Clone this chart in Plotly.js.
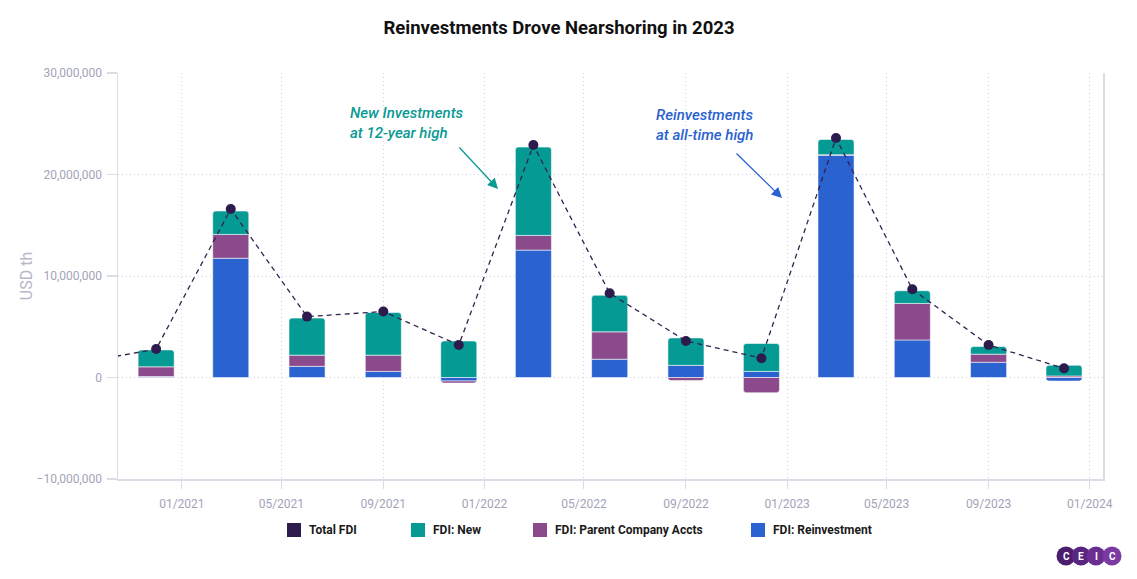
<!DOCTYPE html>
<html>
<head>
<meta charset="utf-8">
<script src="https://cdn.plot.ly/plotly-3.0.1.min.js"></script>
<style>
  html, body { margin: 0; padding: 0; background: #ffffff; }
  #chart { width: 1137px; height: 579px; }
</style>
</head>
<body>
<div id="chart"></div>
<script>
// Quarterly dates (bars)
const barDates = ['2020-12-01','2021-03-01','2021-06-01','2021-09-01','2021-12-01','2022-03-01','2022-06-01','2022-09-01','2022-12-01','2023-03-01','2023-06-01','2023-09-01','2023-12-01'];
// Total FDI line dates (includes the earlier quarter that lies just off the left edge)
const totalDates = ['2020-09-01','2020-12-01','2021-03-01','2021-06-01','2021-09-01','2021-12-01','2022-03-01','2022-06-01','2022-09-01','2022-12-01','2023-03-01','2023-06-01','2023-09-01','2023-12-01'];

// USD th
const fdiReinvestment = [100000, 11750000, 1100000, 600000, -350000, 12550000, 1800000, 1200000, 600000, 21900000, 3700000, 1500000, -350000];
const fdiParent       = [950000, 2350000, 1100000, 1600000, -200000, 1450000, 2700000, -300000, -1500000, 50000, 3600000, 800000, 150000];
const fdiNew          = [1670000, 2300000, 3650000, 4200000, 3600000, 8700000, 3600000, 2700000, 2750000, 1500000, 1250000, 750000, 1050000];
const totalFDI        = [1450000, 2800000, 16600000, 6000000, 6500000, 3200000, 22900000, 8300000, 3600000, 1900000, 23600000, 8700000, 3200000, 900000];

const seriesNames = ['Total FDI', 'FDI: New', 'FDI: Parent Company Accts', 'FDI: Reinvestment'];
const seriesColors = ['#2d1b4e', '#069a94', '#8a4a8c', '#2a62d0'];

const barWidth = 43.5 * 24 * 3600 * 1000;
const barLine = { width: 1, color: 'rgba(255,255,255,0.55)' };

const traces = [
  { type: 'bar', x: barDates, y: fdiReinvestment, name: seriesNames[3], width: barWidth,
    marker: { color: seriesColors[3], line: barLine } },
  { type: 'bar', x: barDates, y: fdiParent, name: seriesNames[2], width: barWidth,
    marker: { color: seriesColors[2], line: barLine } },
  { type: 'bar', x: barDates, y: fdiNew, name: seriesNames[1], width: barWidth,
    marker: { color: seriesColors[1], line: barLine } },
  { type: 'scatter', mode: 'lines+markers', x: totalDates, y: totalFDI, name: seriesNames[0],
    cliponaxis: true,
    line: { color: '#33224f', width: 1.3, dash: '5px,4px' },
    marker: { color: seriesColors[0], size: 10 } }
];

const PL = 118, PR = 1103, PT = 73, PB = 479;
const px = v => (v - PL) / (PR - PL);
const py = v => (PB - v) / (PB - PT);

// custom legend (squares + bold labels), positioned like the reference
const legendSymX = [294, 418, 540, 758];
const legendY = 530;

const logoX = [1066, 1081, 1096, 1112];
const logoLetters = ['C', 'E', 'I', 'C'];
const logoColors = ['#4a1d6d', '#5a2580', '#692e90', '#7a3aa2'];
const logoY = 556;

const shapes = logoX.map((cx, i) => ({
  type: 'circle', xref: 'paper', yref: 'paper', xsizemode: 'pixel', ysizemode: 'pixel',
  xanchor: px(cx), yanchor: py(logoY), x0: -9.5, x1: 9.5, y0: -9.5, y1: 9.5,
  fillcolor: logoColors[i], line: { width: 0 }, layer: 'above'
})).concat(legendSymX.map((cx, i) => ({
  type: 'rect', xref: 'paper', yref: 'paper', xsizemode: 'pixel', ysizemode: 'pixel',
  xanchor: px(cx), yanchor: py(legendY), x0: -7, x1: 7, y0: -7, y1: 7,
  fillcolor: seriesColors[i], line: { width: 0 }, layer: 'above'
})));

const annotations = [
  { xref: 'paper', yref: 'paper', x: px(348), y: py(102), xanchor: 'left', yanchor: 'top', align: 'left',
    showarrow: false, text: 'New Investments<br>at 12-year high',
    font: { family: 'Roboto, sans-serif', size: 15, color: '#0a9a94', style: 'italic', weight: 500 } },
  { xref: 'paper', yref: 'paper', x: px(654), y: py(104), xanchor: 'left', yanchor: 'top', align: 'left',
    showarrow: false, text: 'Reinvestments<br>at all-time high',
    font: { family: 'Roboto, sans-serif', size: 15, color: '#2a62d0', style: 'italic', weight: 500 } },
  { xref: 'paper', yref: 'paper', x: px(498), y: py(189), text: '', showarrow: true,
    ax: -40, ay: -43, arrowhead: 2, arrowsize: 1.6, arrowwidth: 1.3, arrowcolor: '#0a9a94' },
  { xref: 'paper', yref: 'paper', x: px(782), y: py(198), text: '', showarrow: true,
    ax: -47, ay: -46, arrowhead: 2, arrowsize: 1.6, arrowwidth: 1.3, arrowcolor: '#2a62d0' }
].concat(logoX.map((cx, i) => ({
  xref: 'paper', yref: 'paper', x: px(cx), y: py(logoY), showarrow: false, text: logoLetters[i],
  xanchor: 'center', yanchor: 'middle',
  font: { family: 'Roboto, sans-serif', size: 10, color: '#ffffff', weight: 700 }
}))).concat(legendSymX.map((cx, i) => ({
  xref: 'paper', yref: 'paper', x: px(cx + 13), y: py(legendY), showarrow: false, text: seriesNames[i],
  xanchor: 'left', yanchor: 'middle',
  font: { family: 'Roboto, sans-serif', size: 12, color: '#1a1a1a', weight: 700 }
})));

const tickColor = '#a3a3b8';
const gridColor = '#d4d4de';
const axisLine = '#dcdce6';

const layout = {
  width: 1137, height: 579,
  margin: { l: PL, r: 1137 - PR, t: PT, b: 579 - PB, pad: 0 },
  paper_bgcolor: '#ffffff', plot_bgcolor: '#ffffff',
  font: { family: 'Roboto, sans-serif', color: tickColor },
  title: { text: 'Reinvestments Drove Nearshoring in 2023', x: 559 / 1137, xanchor: 'center',
    y: 1 - 28 / 579, yanchor: 'middle', xref: 'container', yref: 'container',
    font: { family: 'Roboto, sans-serif', size: 18.5, color: '#111111', weight: 700 } },
  barmode: 'relative',
  barcornerradius: 3,
  showlegend: false,
  xaxis: {
    type: 'date', range: ['2020-10-16', '2024-01-17'],
    tick0: '2021-01-01', dtick: 'M4', tickformat: '%m/%Y',
    showgrid: true, gridcolor: gridColor, griddash: '1px,3px', gridwidth: 1,
    showline: true, linecolor: axisLine, linewidth: 1.5,
    ticks: 'outside', ticklen: 8, tickcolor: axisLine, tickwidth: 1,
    ticklabelstandoff: 5,
    tickfont: { family: 'Roboto, sans-serif', size: 12, color: tickColor },
    zeroline: false, fixedrange: true
  },
  yaxis: {
    range: [-10000000, 30000000], dtick: 10000000, tickformat: ',d',
    showgrid: true, gridcolor: gridColor, griddash: '1px,3px', gridwidth: 1,
    showline: true, linecolor: axisLine, linewidth: 1.5, mirror: true,
    ticks: 'outside', ticklen: 10, tickcolor: axisLine, tickwidth: 1.5,
    ticklabelstandoff: 2,
    tickfont: { family: 'Roboto, sans-serif', size: 12, color: tickColor },
    zeroline: false, fixedrange: true,
    title: { text: 'USD th', standoff: 0, font: { family: 'Roboto, sans-serif', size: 16, color: '#b8b8c8' } }
  },
  shapes: shapes,
  annotations: annotations
};

Plotly.newPlot('chart', traces, layout, { displayModeBar: false, staticPlot: true });
</script>
</body>
</html>
